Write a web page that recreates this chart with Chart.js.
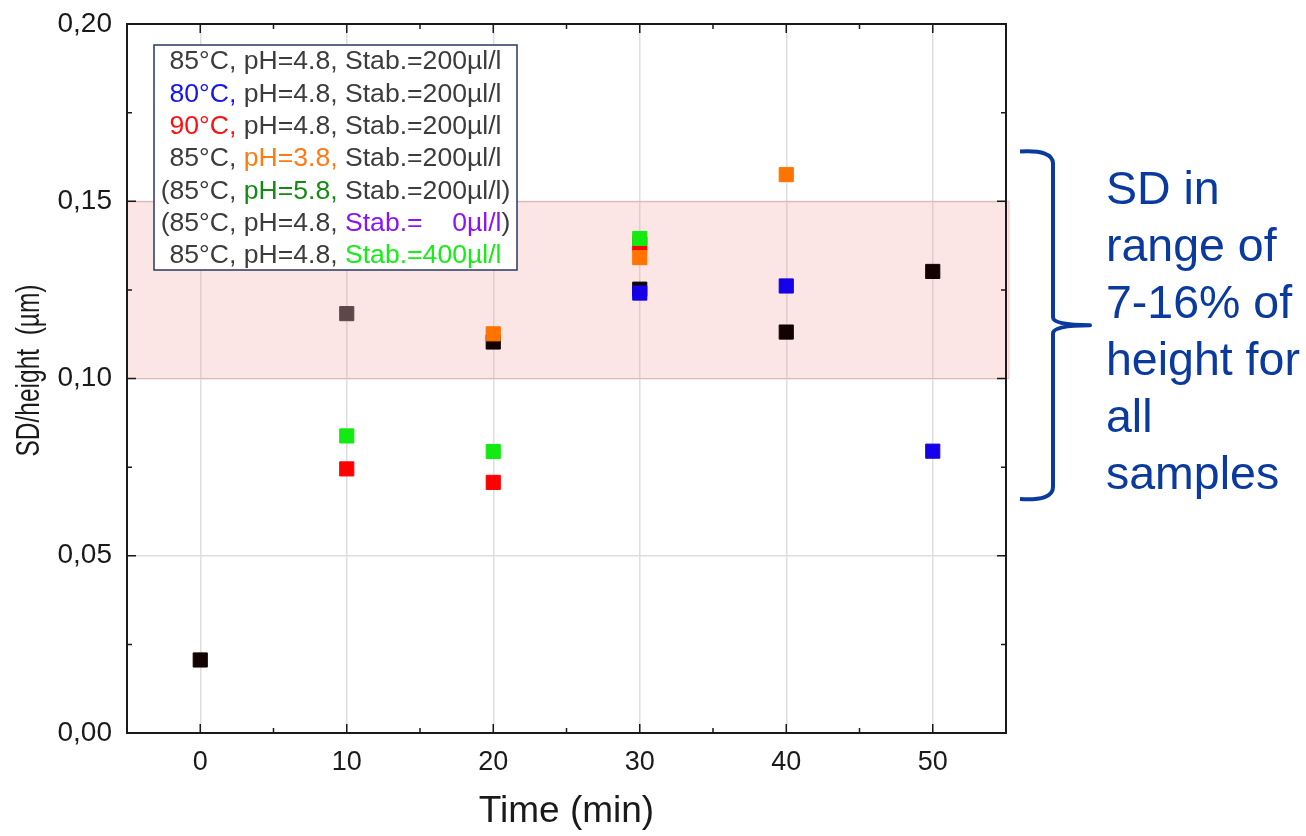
<!DOCTYPE html>
<html>
<head>
<meta charset="utf-8">
<script src="https://cdn.jsdelivr.net/npm/chart.js@4/dist/chart.umd.min.js"></script>
<style>
  html, body { margin: 0; padding: 0; background: #fff; }
  #wrap { width: 1306px; height: 836px; position: relative; }
</style>
</head>
<body>
<div id="wrap"><canvas id="sdChart"></canvas></div>
<script>
// ── data ──
const times = [0, 10, 20, 30, 40, 50];
const sd85 = [0.0206, 0.1183, 0.1103, 0.1252, 0.1131, 0.1302];
const sd80 = [null, null, null, 0.1241, 0.1261, 0.0795];
const sd90 = [null, 0.0745, 0.0707, 0.1380, null, null];
const sdPh38 = [null, null, 0.1126, 0.1341, 0.1575, null];
const sdStab400 = [null, 0.0838, 0.0794, 0.1395, null, null];

const xTicks = [0, 10, 20, 30, 40, 50];
const xMinor = [5, 15, 25, 35, 45];
const yTicks = [0, 0.05, 0.10, 0.15, 0.20];
const yMinor = [0.025, 0.075, 0.125, 0.175];
const bandRange = [0.10, 0.15];
const braceRange = [0.066, 0.164];

const yTitle = 'SD/height  (µm)';
const legendRows = [
    [['85°C, pH=4.8, Stab.=200µl/l', 'gray']],
    [['80°C,', 'blue'], [' pH=4.8, Stab.=200µl/l', 'gray']],
    [['90°C,', 'red'], [' pH=4.8, Stab.=200µl/l', 'gray']],
    [['85°C, ', 'gray'], ['pH=3.8,', 'orange'], [' Stab.=200µl/l', 'gray']],
    [['(85°C, ', 'gray'], ['pH=5.8,', 'dkgreen'], [' Stab.=200µl/l)', 'gray']],
    [['(85°C, pH=4.8, ', 'gray'], ['Stab.=    0µl/l', 'purple'], [')', 'gray']],
    [['85°C, pH=4.8, ', 'gray'], ['Stab.=400µl/l', 'green']],
];
const noteLines = ['SD in', 'range of', '7-16% of', 'height for', 'all', 'samples'];

const C = {
    gray: '#3c3c3c', blue: '#1414f0', red: '#ff1010', orange: '#ff7a10',
    dkgreen: '#138a13', purple: '#8a14f5', green: '#14ee14', note: '#0a3a9e'
};
const FONT = "'Liberation Sans', Arial, sans-serif";

const pts = arr => times.map((t, i) => ({ x: t, y: arr[i] }));

function sq(label, arr, color, order) {
    return {
        label, data: pts(arr), order,
        showLine: false,
        pointStyle: 'rect', pointRadius: 10, pointBorderWidth: 1,
        pointBackgroundColor: color, pointBorderColor: color,
    };
}

// pink band, frame, inward ticks, legend box and the brace note
const decor = {
    id: 'decor',
    beforeDatasetsDraw(chart) {
        const { ctx, chartArea: a, scales: { y } } = chart;
        const top = y.getPixelForValue(bandRange[1]);
        const bot = y.getPixelForValue(bandRange[0]);
        ctx.save();
        ctx.fillStyle = 'rgba(245,150,150,0.25)';
        ctx.fillRect(a.left, top, a.right - a.left + 3, bot - top);
        ctx.strokeStyle = 'rgba(225,140,140,0.45)';
        ctx.lineWidth = 1;
        ctx.strokeRect(a.left, top, a.right - a.left + 3, bot - top);
        ctx.restore();
    },
    afterDraw(chart) {
        const { ctx, chartArea: a, scales: { x, y } } = chart;
        ctx.save();
        ctx.strokeStyle = '#1a1a1a';
        ctx.lineWidth = 2;
        ctx.strokeRect(a.left, a.top, a.right - a.left, a.bottom - a.top);

        ctx.lineWidth = 1.5;
        ctx.beginPath();
        const tickX = (v, len) => {
            const px = x.getPixelForValue(v);
            ctx.moveTo(px, a.bottom); ctx.lineTo(px, a.bottom - len);
            ctx.moveTo(px, a.top); ctx.lineTo(px, a.top + len);
        };
        const tickY = (v, len) => {
            const py = y.getPixelForValue(v);
            ctx.moveTo(a.left, py); ctx.lineTo(a.left + len, py);
            ctx.moveTo(a.right, py); ctx.lineTo(a.right - len, py);
        };
        xTicks.forEach(v => tickX(v, 9));
        xMinor.forEach(v => tickX(v, 5));
        yTicks.forEach(v => tickY(v, 9));
        yMinor.forEach(v => tickY(v, 5));
        ctx.stroke();

        // condensed y title
        ctx.save();
        ctx.translate(30, (a.top + a.bottom) / 2 - 8);
        ctx.rotate(-Math.PI / 2);
        ctx.scale(0.72, 1);
        ctx.font = `34px ${FONT}`;
        ctx.fillStyle = '#1a1a1a';
        ctx.textAlign = 'center';
        ctx.textBaseline = 'middle';
        ctx.fillText(yTitle, 0, 0);
        ctx.restore();

        // legend box
        const bx = a.left + 27, by = a.top + 21, bw = 363, bh = 225;
        ctx.fillStyle = '#fff';
        ctx.fillRect(bx, by, bw, bh);
        ctx.strokeStyle = '#2b3766';
        ctx.lineWidth = 1.5;
        ctx.strokeRect(bx, by, bw, bh);
        ctx.font = `26.6px ${FONT}`;
        ctx.textBaseline = 'middle';
        ctx.textAlign = 'left';
        legendRows.forEach((row, i) => {
            const w = row.reduce((s, seg) => s + ctx.measureText(seg[0]).width, 0);
            let cx = bx + bw / 2 - w / 2;
            const cy = by + 17 + i * 32.3;
            row.forEach(([txt, col]) => {
                ctx.fillStyle = C[col];
                ctx.fillText(txt, cx, cy);
                cx += ctx.measureText(txt).width;
            });
        });

        // brace + note
        const t = y.getPixelForValue(braceRange[1]);
        const b = y.getPixelForValue(braceRange[0]);
        const m = (t + b) / 2;
        const x0 = a.right + 14, x1 = a.right + 47, x2 = a.right + 84;
        ctx.strokeStyle = C.note;
        ctx.lineWidth = 4;
        ctx.lineJoin = 'round';
        ctx.beginPath();
        ctx.moveTo(x0, t);
        ctx.quadraticCurveTo(x1, t - 2, x1, t + 12);
        ctx.lineTo(x1, m - 8);
        ctx.quadraticCurveTo(x1, m, x2, m);
        ctx.quadraticCurveTo(x1, m, x1, m + 8);
        ctx.lineTo(x1, b - 12);
        ctx.quadraticCurveTo(x1, b + 2, x0, b);
        ctx.stroke();

        ctx.fillStyle = C.note;
        ctx.font = `46.5px ${FONT}`;
        ctx.textBaseline = 'alphabetic';
        noteLines.forEach((ln, i) => ctx.fillText(ln, a.right + 100, t + 52 + i * 57));
        ctx.restore();
    }
};

new Chart(document.getElementById('sdChart'), {
    type: 'scatter',
    data: {
        datasets: [
            {
                ...sq('85°C, pH=4.8, Stab.=200µl/l', sd85, '#120202', 5),
                pointBackgroundColor: ['#120202', '#5c4848', '#120202', '#120202', '#120202', '#120202'],
                pointBorderColor: ['#120202', '#5c4848', '#120202', '#120202', '#120202', '#120202'],
            },
            sq('80°C, pH=4.8, Stab.=200µl/l', sd80, '#1600e8', 3),
            sq('90°C, pH=4.8, Stab.=200µl/l', sd90, '#ff0000', 4),
            sq('85°C, pH=3.8, Stab.=200µl/l', sdPh38, '#ff7300', 2),
            sq('85°C, pH=4.8, Stab.=400µl/l', sdStab400, '#12ea12', 1),
        ]
    },
    options: {
        responsive: true,
        maintainAspectRatio: false,
        animation: false,
        events: [],
        layout: { padding: { top: 24, right: 300, left: 0, bottom: 0 } },
        plugins: { legend: { display: false }, tooltip: { enabled: false } },
        scales: {
            x: {
                type: 'linear', min: -5, max: 55,
                afterBuildTicks: s => { s.ticks = xTicks.map(v => ({ value: v })); },
                afterFit: s => { s.height = 103; s.paddingLeft = 0; s.paddingRight = 0; },
                grid: { color: '#dedede', lineWidth: 1.5, drawTicks: false },
                border: { display: false },
                ticks: { color: '#1a1a1a', padding: 13, font: { family: FONT, size: 27 } },
                title: {
                    display: true, text: 'Time (min)', color: '#1a1a1a',
                    font: { family: FONT, size: 37 }, padding: { top: 0, bottom: 2 }
                }
            },
            y: {
                min: 0, max: 0.20,
                afterBuildTicks: s => { s.ticks = yTicks.map(v => ({ value: v })); },
                afterFit: s => { s.width = 127; s.paddingTop = 0; s.paddingBottom = 0; },
                grid: { color: '#dedede', lineWidth: 1.5, drawTicks: false },
                border: { display: false },
                ticks: {
                    color: '#1a1a1a', padding: 15, font: { family: FONT, size: 28 },
                    callback: v => v.toFixed(2).replace('.', ',')
                },
                title: { display: false }
            }
        }
    },
    plugins: [decor]
});
</script>
</body>
</html>
